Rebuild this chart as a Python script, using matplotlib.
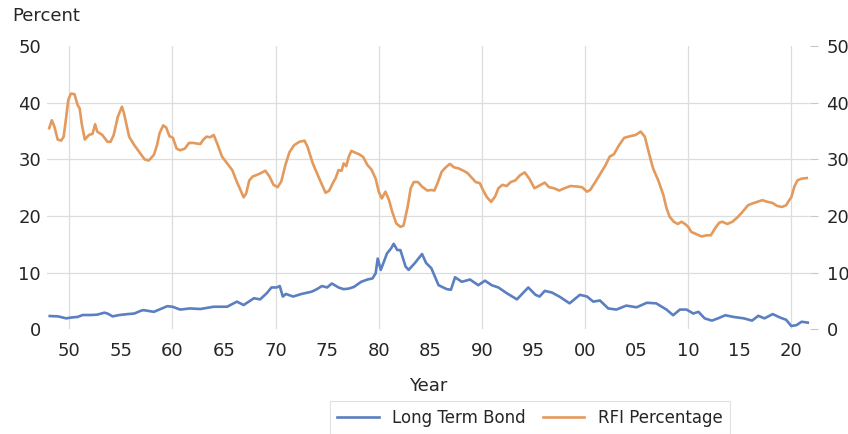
import matplotlib
matplotlib.use("Agg")
import matplotlib.pyplot as plt

# Long term government bond yield, percent
bond_years = [
    1948.1, 1948.9, 1949.7, 1950.2, 1950.8, 1951.3, 1952.1, 1952.7, 1953.4, 1953.7,
    1954.2, 1954.85, 1955.65, 1956.3, 1956.95, 1957.2, 1958.2, 1959.5, 1960.0, 1960.75,
    1961.7, 1962.7, 1964.0, 1965.3, 1966.25, 1966.9, 1967.9, 1968.5, 1969.15, 1969.6,
    1970.1, 1970.4, 1970.7, 1971.0, 1971.7, 1972.5, 1973.5, 1974.0, 1974.5, 1975.0,
    1975.45, 1976.1, 1976.6, 1977.1, 1977.6, 1978.3, 1978.9, 1979.4, 1979.7, 1979.9,
    1980.2, 1980.8, 1981.2, 1981.45, 1981.8, 1982.1, 1982.6, 1982.9, 1983.5, 1984.2,
    1984.6, 1985.1, 1985.8, 1986.6, 1987.0, 1987.4, 1988.05, 1988.85, 1989.65, 1990.3,
    1990.95, 1991.6, 1992.4, 1993.4, 1994.5, 1995.2, 1995.6, 1996.1, 1996.8, 1997.6,
    1998.5, 1999.5, 2000.2, 2000.8, 2001.45, 2002.25, 2003.05, 2004.0, 2005.0, 2006.0,
    2006.9, 2007.9, 2008.55, 2009.2, 2009.85, 2010.5, 2011.0, 2011.6, 2012.3, 2012.9,
    2013.6, 2014.4, 2015.4, 2016.2, 2016.8, 2017.4, 2018.2, 2018.9, 2019.5, 2020.0,
    2020.5, 2021.0, 2021.6,
]
bond_pct = [
    2.36, 2.3, 1.95, 2.1, 2.2, 2.54, 2.54, 2.6, 2.95, 2.8,
    2.3, 2.54, 2.7, 2.8, 3.3, 3.4, 3.1, 4.1, 4.0, 3.5,
    3.7, 3.6, 4.0, 4.0, 4.9, 4.3, 5.5, 5.3, 6.4, 7.4,
    7.4, 7.65, 5.8, 6.25, 5.8, 6.25, 6.65, 7.1, 7.65, 7.4,
    8.1, 7.4, 7.1, 7.2, 7.5, 8.4, 8.8, 9.0, 9.9, 12.5,
    10.5, 13.4, 14.3, 15.1, 14.0, 14.0, 11.1, 10.5, 11.7, 13.3,
    11.7, 10.8, 7.8, 7.1, 7.0, 9.2, 8.4, 8.8, 7.8, 8.6,
    7.8, 7.4, 6.4, 5.3, 7.4, 6.1, 5.8, 6.8, 6.5, 5.7,
    4.6, 6.1, 5.8, 4.9, 5.1, 3.7, 3.5, 4.2, 3.9, 4.7,
    4.6, 3.5, 2.5, 3.5, 3.5, 2.8, 3.1, 1.95, 1.55, 1.95,
    2.5, 2.2, 1.95, 1.55, 2.4, 1.95, 2.7, 2.1, 1.7, 0.6,
    0.75, 1.35, 1.2,
]

# RFI percentage
rfi_years = [
    1948.05, 1948.3, 1948.55, 1948.87, 1949.2, 1949.45, 1949.7, 1949.9, 1950.15, 1950.5,
    1950.8, 1951.0, 1951.2, 1951.5, 1951.9, 1952.25, 1952.5, 1952.7, 1953.2, 1953.7,
    1954.0, 1954.3, 1954.7, 1955.1, 1955.3, 1955.8, 1956.3, 1956.9, 1957.3, 1957.7,
    1958.2, 1958.5, 1958.75, 1959.1, 1959.4, 1959.7, 1960.05, 1960.4, 1960.75, 1961.2,
    1961.6, 1962.0, 1962.7, 1963.0, 1963.3, 1963.65, 1964.0, 1964.4, 1964.8, 1965.3,
    1965.8, 1966.25, 1966.5, 1966.9, 1967.15, 1967.45, 1967.8, 1968.1, 1968.5, 1969.0,
    1969.4, 1969.8, 1970.2, 1970.55, 1970.95, 1971.35, 1971.8, 1972.3, 1972.8, 1973.1,
    1973.6, 1974.1, 1974.5, 1974.85, 1975.2, 1975.6, 1975.8, 1976.1, 1976.4, 1976.6,
    1976.85, 1977.1, 1977.35, 1977.7, 1978.1, 1978.5, 1978.9, 1979.3, 1979.7, 1980.0,
    1980.3, 1980.65, 1981.0, 1981.3, 1981.7, 1982.1, 1982.4, 1982.8, 1983.1, 1983.4,
    1983.8, 1984.2, 1984.7, 1985.1, 1985.4, 1985.7, 1986.1, 1986.5, 1986.9, 1987.3,
    1987.75, 1988.2, 1988.6, 1989.0, 1989.4, 1989.8, 1990.1, 1990.5, 1990.9, 1991.3,
    1991.6, 1992.0, 1992.4, 1992.8, 1993.25, 1993.7, 1994.15, 1994.6, 1995.1, 1995.5,
    1996.1, 1996.5, 1997.0, 1997.5, 1998.0, 1998.6, 1999.25, 1999.7, 2000.2, 2000.5,
    2001.0, 2001.5, 2002.0, 2002.4, 2002.8, 2003.3, 2003.8, 2004.4, 2004.9, 2005.4,
    2005.8, 2006.2, 2006.6, 2007.1, 2007.6, 2007.9, 2008.2, 2008.6, 2009.0, 2009.35,
    2009.7, 2010.0, 2010.3, 2010.8, 2011.3, 2011.8, 2012.2, 2012.6, 2013.0, 2013.3,
    2013.8, 2014.3, 2014.8, 2015.3, 2015.8, 2016.2, 2016.7, 2017.2, 2017.7, 2018.2,
    2018.6, 2019.1, 2019.5, 2019.8, 2020.0, 2020.3, 2020.6, 2021.0, 2021.5,
]
rfi_pct = [
    35.5, 36.9, 35.8, 33.5, 33.3, 34.0, 37.5, 40.5, 41.6, 41.5,
    39.6, 39.0, 36.3, 33.5, 34.3, 34.5, 36.2, 34.9, 34.3, 33.1,
    33.1, 34.3, 37.5, 39.3, 38.1, 34.0, 32.5, 31.0, 30.0, 29.8,
    30.8, 32.5, 34.6, 36.0, 35.6, 34.1, 33.8, 31.9, 31.6, 31.9,
    32.9, 32.9, 32.7, 33.5, 34.0, 33.9, 34.3, 32.5, 30.5, 29.3,
    28.1, 26.0, 25.0, 23.3, 24.0, 26.3, 27.0, 27.2, 27.5, 28.0,
    27.0, 25.5, 25.1, 26.1, 29.0, 31.3, 32.5, 33.1, 33.3, 32.2,
    29.3, 27.2, 25.5, 24.1, 24.5, 26.0, 26.6, 28.1, 28.0, 29.3,
    28.8, 30.5, 31.5, 31.2, 30.9, 30.4, 29.0, 28.2, 26.6, 24.3,
    23.1, 24.3, 22.8, 20.8, 18.7, 18.1, 18.3, 21.6, 24.9, 26.0,
    26.0, 25.2, 24.5, 24.6, 24.5, 25.8, 27.8, 28.6, 29.2, 28.6,
    28.4, 28.0, 27.6, 26.8, 26.0, 25.8, 24.6, 23.3, 22.5, 23.5,
    24.9, 25.5, 25.3, 26.0, 26.3, 27.2, 27.7, 26.6, 24.9, 25.3,
    25.9, 25.1, 24.9, 24.5, 24.9, 25.3, 25.2, 25.1, 24.3, 24.6,
    26.0, 27.5, 29.0, 30.5, 30.9, 32.5, 33.8, 34.1, 34.3, 34.9,
    34.0, 31.1, 28.4, 26.3, 23.7, 21.4, 19.9, 19.0, 18.6, 19.0,
    18.6, 18.1, 17.2, 16.8, 16.4, 16.6, 16.6, 17.8, 18.8, 19.0,
    18.6, 19.0, 19.8, 20.8, 21.9, 22.2, 22.5, 22.8, 22.5, 22.3,
    21.8, 21.6, 21.9, 22.8, 23.3, 25.2, 26.3, 26.6, 26.7,
]

year_ticks = list(range(1950, 2021, 5))
year_labels = ["%02d" % (y % 100) for y in year_ticks]
pct_ticks = [0, 10, 20, 30, 40, 50]

BLUE = "#5b7fc0"
ORANGE = "#e39a5c"
GRID = "#dddddd"
TEXT = "#262626"

plt.rcParams["font.family"] = "DejaVu Sans"

fig = plt.figure(figsize=(8.48, 4.34), dpi=100)
ax = fig.add_axes([0.055, 0.241, 0.9, 0.653])

ax.plot(bond_years, bond_pct, color=BLUE, lw=1.9, label="Long Term Bond")
ax.plot(rfi_years, rfi_pct, color=ORANGE, lw=1.9, label="RFI Percentage")

ax.set_xlim(1947.8, 2021.8)
ax.set_ylim(0, 50)

# labels every 5 years, gridlines every decade and at the inner percent levels
ax.set_xticks(year_ticks)
ax.set_xticklabels(year_labels)
for y in year_ticks[::2]:
    ax.axvline(y, color=GRID, lw=0.9, zorder=0)
ax.set_yticks(pct_ticks)
for v in pct_ticks[1:-1]:
    ax.axhline(v, color=GRID, lw=0.9, zorder=0)

for s in ax.spines.values():
    s.set_visible(False)
ax.tick_params(axis="both", which="both", length=0, labelsize=13, colors=TEXT)
ax.tick_params(axis="x", pad=9)
ax.tick_params(axis="y", pad=4)

# mirrored percent scale on the right
ax2 = ax.twinx()
ax2.set_ylim(ax.get_ylim())
ax2.set_yticks(pct_ticks)
for s in ax2.spines.values():
    s.set_visible(False)
ax2.tick_params(axis="y", length=6, width=0.8, color="#c8c8c8", labelsize=13,
                labelcolor=TEXT, pad=6)

ax.set_xlabel("Year", fontsize=13, color=TEXT, labelpad=12)
fig.text(0.014, 0.962, "Percent", fontsize=13, color=TEXT, ha="left", va="center")

leg = fig.legend(loc="center", bbox_to_anchor=(0.625, 0.037), ncol=2, fontsize=12,
                 frameon=True, fancybox=False, edgecolor="#d9d9d9",
                 handlelength=2.5, columnspacing=1.0, borderpad=0.45)
leg.get_frame().set_linewidth(0.8)
for t in leg.get_texts():
    t.set_color(TEXT)

fig.savefig("out.png", dpi=100)
